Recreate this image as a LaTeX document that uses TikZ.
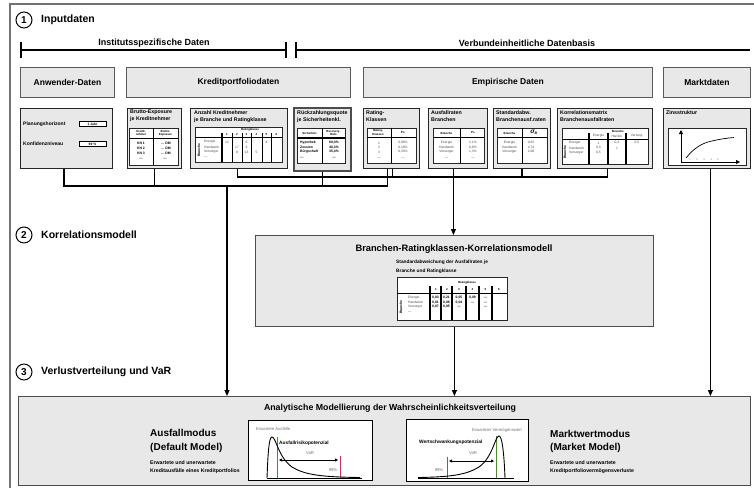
\documentclass[tikz,border=0pt]{standalone}
\usepackage{fontspec}
\setmainfont{Liberation Sans}
\usetikzlibrary{arrows.meta,calc}
\newcommand{\myfs}[2]{\fontsize{#1}{#2}\selectfont}
\definecolor{boxgray}{HTML}{E8E8E8}
\definecolor{vargreen}{HTML}{4E8A2E}
\definecolor{varmag}{HTML}{C8306E}
\begin{document}
\begin{tikzpicture}[x=1pt,y=-1pt,
  hdrbox/.style={draw=black!65, fill=boxgray, line width=0.9pt, anchor=north west, inner sep=0pt, font=\bfseries\myfs{8.5}{9}},
  detbox/.style={draw=black!85, fill=boxgray, line width=0.9pt, anchor=north west, inner sep=0pt},
  dettitle/.style={anchor=north west, inner sep=0pt, align=left, font=\bfseries\myfs{5.3}{7}},
  tab/.style={draw=black!85, fill=white, line width=0.7pt},
  tline/.style={line width=0.6pt},
  tthick/.style={line width=1.1pt},
  tt/.style={font=\myfs{3.3}{3.6}, inner sep=0pt, text=black!70},
  tb/.style={font=\bfseries\myfs{3.4}{3.8}, inner sep=0pt},
  th/.style={font=\bfseries\myfs{2.9}{3.3}, inner sep=0pt, align=center},
  conn/.style={line width=1.1pt},
  arr/.style={line width=1.1pt, -{Triangle[length=6pt,width=5pt]}},
  numc/.style={circle, draw, line width=1pt, minimum size=16pt, inner sep=0pt, font=\bfseries\myfs{10}{10}},
  sect/.style={anchor=west, inner sep=0pt, font=\bfseries\myfs{10.5}{11}},
  brk/.style={line width=1.2pt},
  brklab/.style={inner sep=0pt, font=\bfseries\myfs{9}{9}},
  ctext/.style={inner sep=0pt, font=\myfs{4.2}{4.5}, text=black!55},
  cbold/.style={inner sep=0pt, font=\bfseries\myfs{4.8}{5}},
  ccurve/.style={line width=0.9pt},
  vline/.style={line width=0.8pt},
  varr/.style={line width=0.9pt, {Triangle[length=3pt,width=3pt]}-{Triangle[length=3pt,width=3pt]}},
  modt/.style={anchor=west, inner sep=0pt, font=\bfseries\myfs{10}{10}},
  mods/.style={anchor=west, inner sep=0pt, font=\bfseries\myfs{5.2}{5.5}},
]
\useasboundingbox (0,0) rectangle (754,488);
% outer frame
\draw[black!55, line width=1.3pt] (10,488) -- (10,4) -- (754,4);

% section 1
\node[numc] (c1) at (24,20) {1};
\node[sect] (s1) at (41,20) {Inputdaten};

% brackets
\draw[brk] (21,50) -- (286,50);
\draw[brk] (21,42) -- (21,58);
\draw[brk] (286,42) -- (286,58);
\draw[brk] (296,50) -- (750,50);
\draw[brk] (296,42) -- (296,58);
\node[brklab] (lb1) at (154,43) {Institutsspezifische Daten};
\node[brklab] (lb2) at (527,43) {Verbundeinheitliche Datenbasis};

% header boxes
\node[hdrbox, minimum width=94, minimum height=30] (hanw) at (20,67) {Anwender-Daten};
\node[hdrbox, minimum width=224, minimum height=30] (hkre) at (126,67) {Kreditportfoliodaten};
\node[hdrbox, minimum width=289, minimum height=30] (hemp) at (363,67) {Empirische Daten};
\node[hdrbox, minimum width=87, minimum height=30] (hmar) at (663,67) {Marktdaten};

% detail boxes
\node[detbox, minimum width=92, minimum height=60] (anw) at (20,108) {};
\node[detbox, minimum width=54, minimum height=60] (bru) at (127,108) {};
\node[detbox, minimum width=97, minimum height=60] (anz) at (190,108) {};
\node[detbox, line width=1.6pt, draw=black!70, minimum width=57, minimum height=63] (rue) at (293,107) {};
\node[detbox, minimum width=56, minimum height=60] (rat) at (363,108) {};
\node[detbox, minimum width=59, minimum height=60] (aus) at (428,108) {};
\node[detbox, minimum width=57, minimum height=60] (std) at (493,108) {};
\node[detbox, minimum width=95, minimum height=60] (kor) at (557,108) {};
\node[detbox, minimum width=87, minimum height=60] (zin) at (663,108) {};

% Anwender
\node[anchor=west, inner sep=0pt, font=\bfseries\myfs{5}{5}] (ph) at (23,124) {Planungshorizont};
\node[draw, fill=white, line width=0.6pt, minimum width=27, minimum height=5.5, inner sep=0pt, font=\bfseries\myfs{3.3}{3.3}] (phv) at (92.5,124) {1 Jahr};
\node[anchor=west, inner sep=0pt, font=\bfseries\myfs{5}{5}] (kn) at (23,144) {Konfidenzniveau};
\node[draw, fill=white, line width=0.6pt, minimum width=27, minimum height=5.5, inner sep=0pt, font=\bfseries\myfs{3.3}{3.3}] (knv) at (92.5,144) {99 \%};

% Brutto-Exposure
\node[dettitle] (brut) at (130,110) {Brutto-Exposure\\je Kreditnehmer};
\draw[tab] (129,128) rectangle (178,165);
\draw[tline] (153,128) -- (153,165);
\draw[tthick] (129,138.5) -- (178,138.5);
\node[th] (bh1) at (141,133) {Kredit-\\nehmer};
\node[th] (bh2) at (165.5,133) {Brutto-\\Exposure};
\foreach \t/\y [count=\i] in {KN 1/143,KN 2/148,KN 3/153,---/159} \node[tb] (bk\i) at (141,\y) {\t};
\foreach \y [count=\i] in {143,148,153} \node[tb] (bd\i) at (166,\y) {... DM};
\node[tb] (bd4) at (165,159) {---};

% Anzahl
\node[dettitle] (anzt) at (194,110) {Anzahl Kreditnehmer\\je Branche und Ratingklasse};
\draw[tab] (195,127) rectangle (282,162);
\node[th] (anzh) at (250,130) {Ratingklasse};
\draw[tline] (195,137.5) -- (282,137.5);
\draw[tthick] (222,133) -- (222,162);
\foreach \x in {232,242,251,262,271} \draw[tline] (\x,133) -- (\x,162);
\foreach \x [count=\i] in {227,237,246.5,256.5,266.5,276.5} \node[th] (anzn\i) at (\x,134.8) {\i};
\node[tb, rotate=90] (anzb) at (199,150) {Branche};
\foreach \t/\y [count=\i] in {Energie/142,Handwerk/147,Versorger/152,---/157} \node[tt, anchor=west] (anzr\i) at (204,\y) {\t};
\node[tt] (az1) at (227,142) {12};
\node[tt] (az2) at (246.5,142) {6};
\node[tt] (az3) at (266.5,142) {4};
\node[tt] (az4) at (237,147) {17};
\node[tt] (az5) at (246.5,147) {9};
\node[tt] (az6) at (237,152) {8};
\node[tt] (az7) at (246.5,152) {13};
\node[tt] (az8) at (256.5,152) {5};

% Rueckzahlungsquote
\node[dettitle] (ruet) at (297,110) {Rückzahlungsquote\\je Sicherheitenkl.};
\draw[tab] (297,128) rectangle (345,163);
\draw[tline] (322,128) -- (322,163);
\draw[tthick] (297,138) -- (345,138);
\node[th] (rh1) at (309.5,133) {Sicherheit};
\node[th] (rh2) at (333.5,133) {Recovery-\\Rate};
\foreach \t/\v/\y [count=\i] in {Hypothek/{60,0\%}/143, Zession/{40,3\%}/147.5, Bürgschaft/{35,4\%}/152, ---/---/158} {
  \node[tb, anchor=west] (rk\i) at (300,\y) {\t};
  \node[tb] (rv\i) at (334,\y) {\v};
}

% Rating-Klassen
\node[dettitle] (ratt) at (366,110) {Rating-\\Klassen};
\draw[tab] (367,128) rectangle (416,163);
\draw[tline] (391,128) -- (391,163);
\draw[tthick] (367,137.5) -- (416,137.5);
\node[th] (rah1) at (378,132.5) {Rating-\\Klassen};
\node[th] (rah2) at (403,133) {Ps};
\foreach \t/\v/\y [count=\i] in {1/{0,06\%}/143, 2/{0,18\%}/147.5, 3/{0,33\%}/152, ---/---/158} {
  \node[tt] (rak\i) at (379,\y) {\t};
  \node[tt] (rav\i) at (403,\y) {\v};
}

% Ausfallraten
\node[dettitle] (aust) at (431,110) {Ausfallraten\\Branchen};
\draw[tab] (433,128) rectangle (484,163);
\draw[tline] (460,128) -- (460,163);
\draw[tthick] (433,137.5) -- (484,137.5);
\node[th] (auh1) at (446.5,133) {Branche};
\node[th] (auh2) at (473,133) {Ps};
\foreach \t/\v/\y [count=\i] in {Energie/{2,1\%}/143, Handwerk/{0,8\%}/147.5, Versorger/{1,3\%}/152, ---/---/158} {
  \node[tt] (auk\i) at (446.5,\y) {\t};
  \node[tt] (auv\i) at (473,\y) {\v};
}

% Standardabw.
\node[dettitle] (stdt) at (496,110) {Standardabw.\\Branchenausf.raten};
\draw[tab] (497,128) rectangle (547,163);
\draw[tline] (522,128) -- (522,163);
\draw[tthick] (497,137.5) -- (547,137.5);
\node[th] (sth1) at (509.5,133) {Branche};
\node[inner sep=0pt, font=\bfseries\itshape\myfs{6.5}{6.5}] (sth2) at (534,132.5) {σ\textsubscript{\myfs{3.5}{3.5}B}};
\foreach \t/\v/\y [count=\i] in {Energie/{0,62}/143, Handwerk/{4,74}/147.5, Versorger/{2,08}/152} {
  \node[tt] (stk\i) at (509.5,\y) {\t};
  \node[tt] (stv\i) at (531,\y) {\v};
}

% Korrelationsmatrix
\node[dettitle] (kort) at (560,110) {Korrelationsmatrix\\Branchenausfallraten};
\draw[tab] (562,128) rectangle (648,164);
\node[th] (korh) at (618,131.5) {Branche};
\draw[tline] (562,139) -- (648,139);
\draw[tthick] (589,133) -- (589,164);
\draw[tthick] (608,133) -- (608,164);
\draw[tthick] (626,133) -- (626,164);
\node[tt] (korh1) at (598.5,136) {Energie};
\node[tt] (korh2) at (617,136) {Handw.};
\node[tt] (korh3) at (637,136) {Versorg.};
\node[tb, rotate=90] (korb) at (565,152) {Branche};
\foreach \t/\y [count=\i] in {Energie/143,Handwerk/148,Versorger/153} \node[tt, anchor=west] (korr\i) at (569,\y) {\t};
\node[tt] (kv1) at (598.5,143) {1};
\node[tt] (kv2) at (617,143) {0,3};
\node[tt] (kv3) at (637,143) {0,5};
\node[tt] (kv4) at (598.5,148) {0,3};
\node[tt] (kv5) at (617,148) {1};
\node[tt] (kv6) at (598.5,153) {0,5};

% Zinsstruktur
\node[dettitle] (zint) at (666,110) {Zinsstruktur};
\draw[tab] (668,128) rectangle (746,165);
\draw[line width=0.9pt, -{Triangle[length=4pt,width=4pt]}] (681,162) -- (681,130);
\draw[line width=0.9pt, -{Triangle[length=4pt,width=4pt]}] (681,162) -- (740,162);
\draw[line width=0.7pt] (686,158) .. controls (694,148) and (702,143) .. (712,141) .. controls (720,139) and (728,138) .. (734,137.5);
\foreach \x [count=\i] in {690,697,704,711,718} \node[inner sep=0pt, font=\myfs{2.5}{2.5}, text=black!60] (zn\i) at (\x,159.5) {\i};

% Korrelationsmodell
\node[detbox, draw=black!70, minimum width=398, minimum height=91] (kmod) at (255,235) {};
\node[inner sep=0pt, font=\bfseries\myfs{9.3}{9.3}] (kmodt) at (454,249) {Branchen-Ratingklassen-Korrelationsmodell};
\node[anchor=north west, inner sep=0pt, align=left, font=\bfseries\myfs{4.8}{9}] (kmods) at (396,259.5) {Standardabweichung der Ausfallraten je\\Branche und Ratingklasse};
\draw[tab] (397,277) rectangle (507,320);
\node[th] (kmh) at (467,283) {Ratingklasse};
\draw[tline] (397,293) -- (507,293);
\draw[tthick] (430,286) -- (430,320);
\foreach \x in {441,452,466,479,492} \draw[tthick] (\x,286) -- (\x,320);
\foreach \x [count=\i] in {436,447,459,472.5,485.5,499} \node[th] (kmn\i) at (\x,289.5) {\i};
\node[tb, rotate=90] (kmb) at (401,307) {Branche};
\foreach \t/\y [count=\i] in {Energie/298,Handwerk/302.5,Versorger/307,---/312.5} \node[tt, anchor=west] (kmr\i) at (408,\y) {\t};
\foreach \a/\b/\c/\d/\e/\yy [count=\i] in {{0,03}/{0,21}/{0,05}/{0,09}/---/298, {0,01}/{0,08}/{0,04}/---/---/302.5, {0,07}/{0,05}/---/{}/---/307} {
  \node[tb] (kma\i) at (435.5,\yy) {\a};
  \node[tb] (kmb\i) at (446.5,\yy) {\b};
  \node[tb] (kmc\i) at (459,\yy) {\c};
  \node[tb] (kmd\i) at (472.5,\yy) {\d};
  \node[tb] (kme\i) at (485.5,\yy) {\e};
}

% section 2 and 3 labels
\node[numc] (c2) at (24,235) {2};
\node[sect] (s2) at (41,235) {Korrelationsmodell};
\node[numc] (c3) at (24,372) {3};
\node[sect] (s3) at (41,372) {Verlustverteilung und VaR};

% bottom box
\node[detbox, draw=black!70, minimum width=732, minimum height=89] (bot) at (18,396) {};
\node[inner sep=0pt, font=\bfseries\myfs{8.8}{9}] (bott) at (390,408) {Analytische Modellierung der Wahrscheinlichkeitsverteilung};
\node[modt] (am1) at (150,433) {Ausfallmodus};
\node[modt] (am2) at (150,448) {(Default Model)};
\node[mods] (am3) at (150,463) {Erwartete und unerwartete};
\node[mods] (am4) at (150,471) {Kreditausfälle eines Kreditportfolios};
\node[modt] (mm1) at (550,434) {Marktwertmodus};
\node[modt] (mm2) at (550,448) {(Market Model)};
\node[mods] (mm3) at (550,463) {Erwartete und unerwartete};
\node[mods] (mm4) at (550,471) {Kreditportfoliovermögensverluste};

% left chart
\node[draw=black, fill=white, line width=0.9pt, anchor=north west, inner sep=0pt, minimum width=124, minimum height=60] (chl) at (248,420) {};
\draw[line width=0.9pt] (267,478.5) -- (362,478.5);
\draw[vargreen, vline] (277,437) -- (277,478);
\draw[varmag, vline] (340,456) -- (340,478);
\draw[ccurve] (267,478) .. controls (268,452) and (269,437) .. (272,437) .. controls (276,437) and (278,457) .. (292,467) .. controls (305,475) and (322,477) .. (360,477.5);
\draw[varr] (279,460) -- (338,460);
\node[ctext, anchor=west] (clt1) at (256,429) {Erwartete Ausfälle};
\node[cbold, anchor=west] (clt2) at (279,443) {Ausfallrisikopotenzial};
\node[ctext] (clt3) at (310,453.5) {VaR};
\node[ctext] (clt4) at (333,470) {99\%};

% right chart
\node[draw=black, fill=white, line width=0.9pt, anchor=north west, inner sep=0pt, minimum width=122, minimum height=62] (chr) at (406,419) {};
\draw[line width=0.9pt] (418,478.5) -- (514,478.5);
\draw[vargreen, vline] (496,436) -- (496,478);
\draw[varmag, vline] (447,457) -- (447,478);
\draw[ccurve] (505,478) .. controls (504,452) and (502,436) .. (499,436) .. controls (495,436) and (493,457) .. (479,467) .. controls (466,475) and (450,477) .. (418,477.5);
\draw[varr] (449,461) -- (494,461);
\node[ctext, anchor=east] (crt1) at (522,430) {Erwarteter Vermögenswert};
\node[cbold, anchor=west] (crt2) at (419,442) {Wertschwankungspotenzial};
\node[ctext] (crt3) at (473,453.5) {VaR};
\node[ctext] (crt4) at (439,470) {99\%};

% connectors
\coordinate (busA) at (227,186);
\coordinate (busB) at (453,177);
\coordinate (anwA) at ([xshift=-2.5pt]anw.south);
\coordinate (ratA) at ([xshift=-4pt]rat.south);
\coordinate (ratB) at ([xshift=1pt]rat.south);
\coordinate (anzB) at ([xshift=-1.5pt]anz.south);
\coordinate (korB) at ([xshift=2.5pt]kor.south);
\coordinate (ausB) at ([xshift=-4.5pt]aus.south);
\coordinate (zinB) at ([xshift=3.5pt]zin.south);
\draw[conn] (anwA) |- (ratA |- busA) -- (ratA);
\draw[conn] (bru.south) -- (bru.south |- busA);
\draw[conn] (rue.south) -- (rue.south |- busA);
\draw[conn] (anzB) |- (korB |- busB) -- (korB);
\draw[conn] (ratB) -- (ratB |- busB);
\draw[conn] (std.south) -- (std.south |- busB);
\draw[arr] (busA) -- (busA |- bot.north);
\draw[arr] (ausB) -- (ausB |- kmod.north);
\draw[arr] (kmod.south) -- (kmod.south |- bot.north);
\draw[arr] (zinB) -- (zinB |- bot.north);
\end{tikzpicture}
\end{document}
